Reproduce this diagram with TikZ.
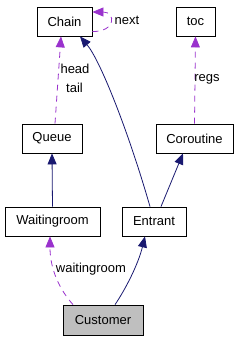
\documentclass[tikz,border=0pt]{standalone}
\usepackage{fontspec}
\setmainfont{Liberation Sans}
\usetikzlibrary{arrows.meta}
\definecolor{navyc}{HTML}{191970}
\definecolor{purp}{HTML}{9A32CD}
\definecolor{grayf}{HTML}{BFBFBF}
\begin{document}
\begin{tikzpicture}[x=1pt,y=-1pt,
  cls/.style={draw=black,line width=0.8pt,fill=white,inner sep=0pt,minimum height=29pt,font=\fontsize{13}{15}\selectfont},
  lbl/.style={font=\fontsize{13}{15}\selectfont,inner sep=0pt},
  inh/.style={draw=navyc,line width=0.8pt,-{Triangle[length=11pt,width=9pt]}},
  dep/.style={draw=purp,line width=0.8pt,dash pattern=on 6pt off 5pt,-{Triangle[length=11pt,width=9pt]}}]
\useasboundingbox (0,0) rectangle (239,341);
\node[cls,minimum width=55pt] (Chain) at (64.5,21.5) {Chain};
\node[cls,minimum width=39pt] (toc) at (195.5,21.5) {toc};
\node[cls,minimum width=60pt] (Queue) at (52,138.5) {Queue};
\node[cls,minimum width=77pt] (Coroutine) at (194.5,138.5) {Coroutine};
\node[cls,minimum width=95pt] (Waitingroom) at (52.5,221.5) {Waitingroom};
\node[cls,minimum width=64pt] (Entrant) at (154,221.5) {Entrant};
\node[cls,minimum width=80pt,minimum height=30pt,fill=grayf] (Customer) at (103,320) {Customer};
% self loop
\draw[dep] ([yshift=-10pt]Chain.east) .. controls (116,32) and (116,12) .. ([yshift=9.5pt]Chain.east);
\node[lbl] (lnext) at (127,20) {next};
% Queue -> Chain
\draw[dep] ([xshift=3pt]Queue.north) -- ([xshift=-3.5pt]Chain.south);
\node[lbl] (lhead) at (75,69) {head};
\node[lbl] (ltail) at (74.5,88) {tail};
% Coroutine -> toc
\draw[dep] (Coroutine.north) -- (toc.south);
\node[lbl] (lregs) at (207,79) {regs};
% Waitingroom -> Queue
\draw[inh] (Waitingroom.north) -- (Queue.south);
% Entrant -> Coroutine
\draw[inh] ([xshift=7pt]Entrant.north) -- ([xshift=-11.5pt]Coroutine.south);
% Entrant -> Chain
\draw[inh] ([xshift=-4pt]Entrant.north) .. controls (128,130) and (100,60) .. ([xshift=15.5pt]Chain.south);
% Customer -> Waitingroom
\draw[dep] ([xshift=-30pt]Customer.north) .. controls (60,290) and (50,270) .. ([xshift=-2.5pt]Waitingroom.south);
\node[lbl] (lwait) at (91,269) {waitingroom};
% Customer -> Entrant
\draw[inh] ([xshift=12pt]Customer.north) .. controls (125,290) and (138,265) .. ([xshift=-9pt]Entrant.south);
\end{tikzpicture}
\end{document}
